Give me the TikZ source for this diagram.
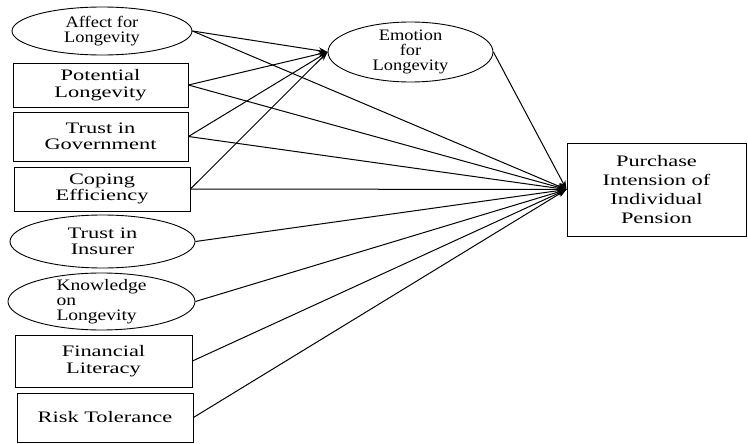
\documentclass[tikz,border=0pt]{standalone}
\usepackage{fontspec}
\setmainfont{Liberation Serif}
\newfontfamily\wideserif[FakeStretch=1.4]{Liberation Serif}
\newfontfamily\midserif[FakeStretch=1.15]{Liberation Serif}
\newfontfamily\knserif[FakeStretch=1.22]{Liberation Serif}
\usetikzlibrary{shapes.geometric,arrows.meta}
\begin{document}
\begin{tikzpicture}[x=1pt,y=-1pt,
  rbox/.style={draw, line width=0.9pt, inner sep=0pt, align=center,
    font=\wideserif\fontsize{16}{16.5}\selectfont},
  ell/.style={draw, ellipse, line width=0.9pt, inner sep=-10pt, align=center,
    font=\midserif\fontsize{16}{15}\selectfont},
  arr/.style={line width=1pt, -{Stealth[length=9pt,width=6.5pt]}}]
\useasboundingbox (0,0) rectangle (748,444);

% left column
\node[ell, minimum width=180pt, minimum height=48pt] (AF) at (102,31) {Affect for\\Longevity};
\node[rbox, minimum width=175pt, minimum height=44pt] (PL) at (100.5,85) {Potential\\Longevity};
\node[rbox, minimum width=175pt, minimum height=49pt] (TG) at (100.5,136.5) {Trust in\\Government};
\node[rbox, minimum width=176pt, minimum height=44pt] (CE) at (102,189) {Coping\\Efficiency};
\node[ell, minimum width=185pt, minimum height=53pt,
  font=\wideserif\fontsize{16}{16.5}\selectfont] (TI) at (102.5,241.5) {Trust in\\Insurer};
\node[ell, minimum width=187pt, minimum height=57pt, align=left,
  font=\knserif\fontsize{16}{15}\selectfont] (KL) at (101.5,301.5) {Knowledge\\on\\Longevity};
\node[rbox, minimum width=177pt, minimum height=52pt] (FL) at (103.5,361) {Financial\\Literacy};
\node[rbox, minimum width=176pt, minimum height=49pt] (RT) at (105,417.5) {Risk Tolerance};

% mediator and outcome
\node[ell, minimum width=165pt, minimum height=60pt] (EM) at (410.5,52) {Emotion\\for\\Longevity};
\node[rbox, minimum width=179pt, minimum height=93pt,
  font=\wideserif\fontsize{16}{19}\selectfont] (PI) at (656.5,189.5) {Purchase\\Intension of\\Individual\\Pension};

% connectors
\foreach \s in {AF,PL,TG,CE} {
  \draw[arr] (\s.east) -- (EM.west);
}
\foreach \s in {AF,PL,TG,CE,TI,KL,FL,RT} {
  \draw[arr] (\s.east) -- (PI.west);
}
\draw[arr] (EM.east) -- (PI.west);
\end{tikzpicture}
\end{document}
